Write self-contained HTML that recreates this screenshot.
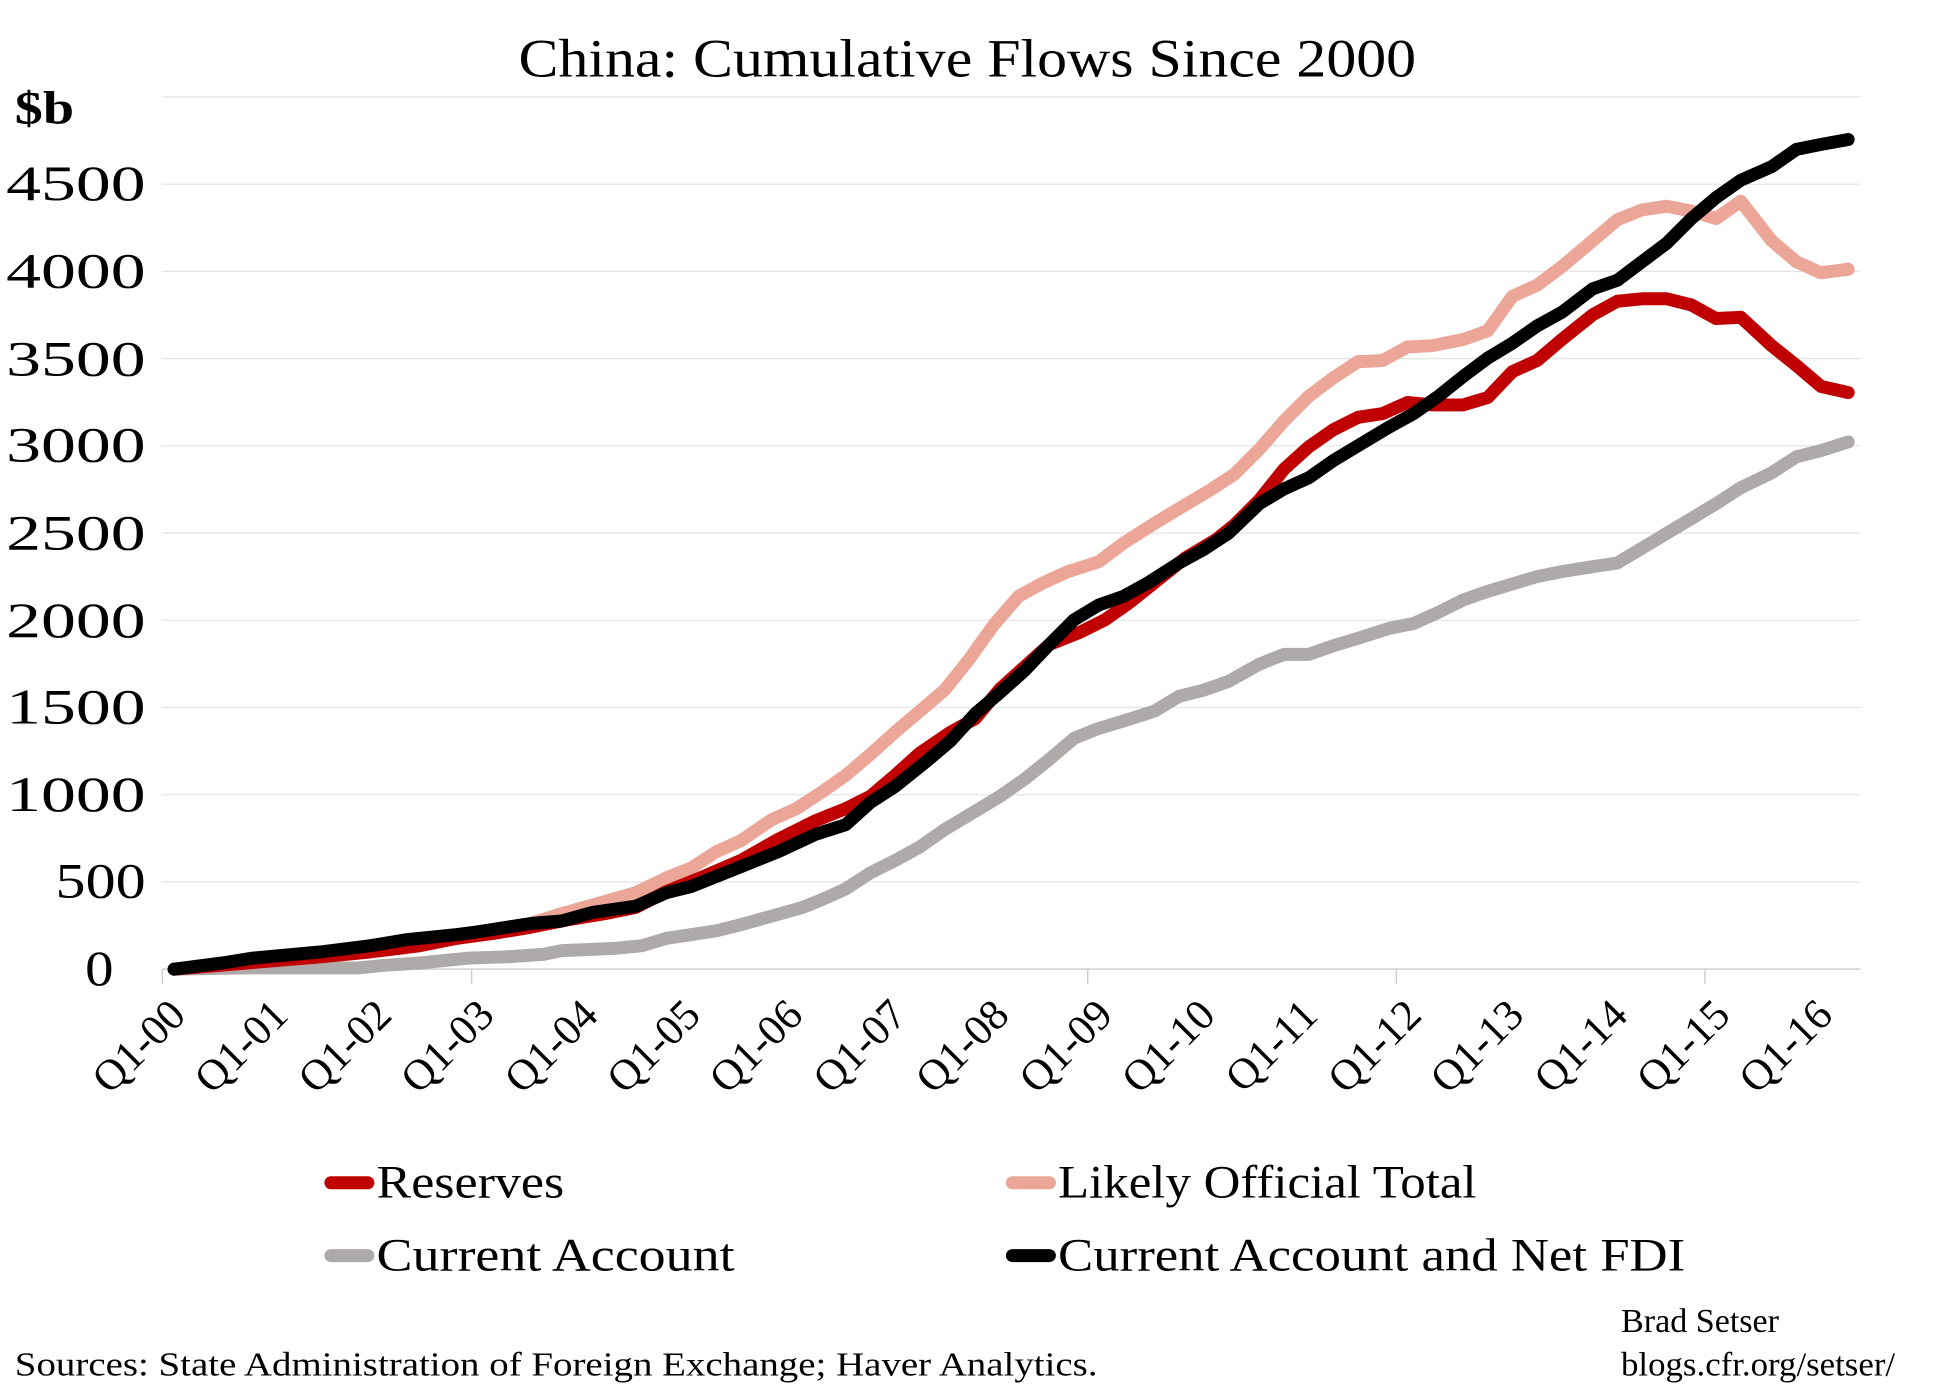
<!DOCTYPE html>
<html><head><meta charset="utf-8"><style>
html,body{margin:0;padding:0;background:#fff}
svg{display:block}
text{font-family:"Liberation Serif",serif;fill:#000}
</style></head><body>
<svg width="1934" height="1393" viewBox="0 0 1566.5 1128.3" preserveAspectRatio="none" xmlns="http://www.w3.org/2000/svg">
<text x="420" y="62" font-size="44" textLength="727" lengthAdjust="spacingAndGlyphs">China: Cumulative Flows Since 2000</text>
<text x="12" y="100" font-size="38" font-weight="bold" textLength="48" lengthAdjust="spacingAndGlyphs">$b</text>
<g stroke="#e4e4e4" stroke-width="1">
<line x1="131" x2="1507" y1="78.5" y2="78.5"/><line x1="131" x2="1507" y1="149.2" y2="149.2"/>
<line x1="131" x2="1507" y1="219.8" y2="219.8"/><line x1="131" x2="1507" y1="290.5" y2="290.5"/>
<line x1="131" x2="1507" y1="361.1" y2="361.1"/><line x1="131" x2="1507" y1="431.8" y2="431.8"/>
<line x1="131" x2="1507" y1="502.4" y2="502.4"/><line x1="131" x2="1507" y1="573.1" y2="573.1"/>
<line x1="131" x2="1507" y1="643.7" y2="643.7"/><line x1="131" x2="1507" y1="714.4" y2="714.4"/>
</g>
<g stroke="#cfcfcf" stroke-width="1.2">
<line x1="131" x2="1507" y1="785" y2="785"/>
<line x1="131.5" x2="131.5" y1="785" y2="797"/><line x1="382" x2="382" y1="785" y2="797"/>
<line x1="881" x2="881" y1="785" y2="797"/><line x1="1131" x2="1131" y1="785" y2="797"/>
<line x1="1381" x2="1381" y1="785" y2="797"/>
</g>
<g font-size="40">
<text x="5" y="162" textLength="113" lengthAdjust="spacingAndGlyphs">4500</text>
<text x="5" y="233" textLength="113" lengthAdjust="spacingAndGlyphs">4000</text>
<text x="5" y="304" textLength="113" lengthAdjust="spacingAndGlyphs">3500</text>
<text x="5" y="374" textLength="113" lengthAdjust="spacingAndGlyphs">3000</text>
<text x="5" y="445" textLength="113" lengthAdjust="spacingAndGlyphs">2500</text>
<text x="5" y="516" textLength="113" lengthAdjust="spacingAndGlyphs">2000</text>
<text x="5" y="586" textLength="113" lengthAdjust="spacingAndGlyphs">1500</text>
<text x="5" y="657" textLength="113" lengthAdjust="spacingAndGlyphs">1000</text>
<text x="45" y="727" textLength="73" lengthAdjust="spacingAndGlyphs">500</text>
<text x="69" y="798" textLength="23" lengthAdjust="spacingAndGlyphs">0</text>
</g>
<g font-size="35" text-anchor="end">
<text transform="translate(152,824) rotate(-45)">Q1-00</text>
<text transform="translate(235,824) rotate(-45)">Q1-01</text>
<text transform="translate(319,824) rotate(-45)">Q1-02</text>
<text transform="translate(402,824) rotate(-45)">Q1-03</text>
<text transform="translate(486,824) rotate(-45)">Q1-04</text>
<text transform="translate(569,824) rotate(-45)">Q1-05</text>
<text transform="translate(652,824) rotate(-45)">Q1-06</text>
<text transform="translate(736,824) rotate(-45)">Q1-07</text>
<text transform="translate(819,824) rotate(-45)">Q1-08</text>
<text transform="translate(903,824) rotate(-45)">Q1-09</text>
<text transform="translate(986,824) rotate(-45)">Q1-10</text>
<text transform="translate(1069,824) rotate(-45)">Q1-11</text>
<text transform="translate(1153,824) rotate(-45)">Q1-12</text>
<text transform="translate(1236,824) rotate(-45)">Q1-13</text>
<text transform="translate(1320,824) rotate(-45)">Q1-14</text>
<text transform="translate(1403,824) rotate(-45)">Q1-15</text>
<text transform="translate(1486,824) rotate(-45)">Q1-16</text>
</g>
<g fill="none" stroke-width="10.5" stroke-linecap="round" stroke-linejoin="round">
<polyline stroke="#aeaaaa" points="141,785 200,784 260,784 290,784 310,782 340,780 380,776 410,775 440,773 455,770 480,769 500,768 520,766 540,760 560,757 580,754 600,749 625,742 650,735 665,729 685,720 705,707 725,697 745,686 765,672 790,657 810,645 830,631 850,615 870,598 890,590 910,584 935,576 955,564 975,559 995,552 1020,538 1040,530 1060,530 1080,523 1100,517 1125,509 1145,505 1165,496 1185,486 1205,479 1225,473 1245,467 1265,463 1290,459 1310,456 1330,444 1350,432 1370,420 1390,408 1410,395 1435,383 1455,370 1475,365 1497,358"/>
<polyline stroke="#eba698" points="141,785 200,780 260,775 300,771 340,766 370,760 400,755 430,748 455,740 480,733 515,723 540,711 560,703 580,690 600,681 625,664 645,655 665,642 685,628 705,611 725,593 745,576 765,559 785,534 805,506 825,483 845,472 865,463 890,455 910,440 935,424 960,409 980,397 1000,384 1020,364 1040,341 1060,321 1080,306 1100,293 1120,292 1140,281 1160,280 1185,275 1205,268 1225,240 1245,231 1265,216 1290,195 1310,178 1330,170 1350,167 1370,171 1390,177 1410,163 1435,195 1455,212 1475,221 1497,218"/>
<polyline stroke="#c00000" points="141,785 200,780 260,775 300,771 340,766 370,760 400,756 430,751 460,745 490,740 515,735 540,722 565,712 600,697 630,680 660,665 685,655 705,645 725,628 745,610 770,593 790,582 810,558 830,540 850,522 875,512 895,502 915,488 935,472 960,452 985,437 1000,425 1020,405 1040,380 1060,362 1080,348 1100,338 1120,335 1140,326 1160,328 1185,328 1205,322 1225,301 1245,292 1265,275 1290,255 1310,244 1330,242 1350,242 1370,247 1390,258 1410,257 1435,280 1455,296 1475,313 1497,318"/>
<polyline stroke="#000" points="141,785 180,780 205,776 260,771 300,766 330,761 350,759 370,757 385,755 430,748 455,746 480,739 515,734 540,723 560,718 600,702 630,690 660,676 685,668 705,650 725,637 750,617 770,600 790,578 810,561 830,543 850,522 870,502 890,490 910,483 930,472 955,456 975,445 995,432 1020,408 1040,396 1060,387 1080,373 1100,361 1125,346 1145,335 1165,321 1185,305 1205,290 1225,278 1245,264 1265,253 1290,234 1310,227 1330,212 1350,197 1370,177 1390,160 1410,146 1435,135 1455,121 1475,117 1497,113"/>
</g>
<g stroke-width="10.5" stroke-linecap="round">
<line x1="268" x2="298" y1="958" y2="958" stroke="#c00000"/>
<line x1="820" x2="850" y1="958" y2="958" stroke="#eba698"/>
<line x1="268" x2="298" y1="1017" y2="1017" stroke="#aeaaaa"/>
<line x1="820" x2="850" y1="1017" y2="1017" stroke="#000"/>
</g>
<g font-size="38">
<text x="305" y="970" textLength="152" lengthAdjust="spacingAndGlyphs">Reserves</text>
<text x="857" y="970" textLength="339" lengthAdjust="spacingAndGlyphs">Likely Official Total</text>
<text x="305" y="1029" textLength="290" lengthAdjust="spacingAndGlyphs">Current Account</text>
<text x="857" y="1029" textLength="508" lengthAdjust="spacingAndGlyphs">Current Account and Net FDI</text>
</g>
<g font-size="27">
<text x="12" y="1114" textLength="877" lengthAdjust="spacingAndGlyphs">Sources: State Administration of Foreign Exchange; Haver Analytics.</text>
<text x="1313" y="1079" textLength="128" lengthAdjust="spacingAndGlyphs">Brad Setser</text>
<text x="1313" y="1114" textLength="222" lengthAdjust="spacingAndGlyphs">blogs.cfr.org/setser/</text>
</g>
</svg>
</body></html>
